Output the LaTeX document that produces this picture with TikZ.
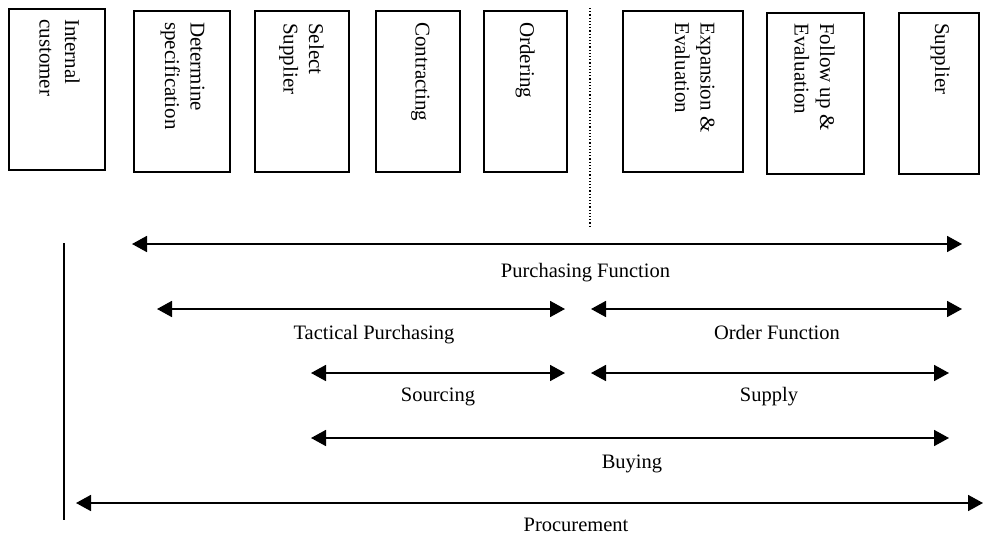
\documentclass[tikz,border=0pt]{standalone}
\usepackage{fontspec}
\setmainfont{Liberation Serif}
\usetikzlibrary{arrows.meta,calc}
\begin{document}
\begin{tikzpicture}[x=1pt,y=1pt,
  every node/.style={font=\fontsize{20.5}{23}\selectfont},
  box/.style={draw, line width=1.8pt, minimum width=#1, inner sep=0, minimum height=161pt, anchor=north west},
  vtext/.style={rotate=-90, align=left, inner sep=0, anchor=north west, font=\fontsize{21}{25.5}\selectfont},
  span/.style={line width=1.8pt, {Triangle[length=15pt,width=16pt]}-{Triangle[length=15pt,width=16pt]}},
  lbl/.style={inner sep=0, anchor=base}]
\useasboundingbox (0,0) rectangle (984,-538);
% boxes
\node[box=96pt] (b1) at (8,-8) {};
\node[box=96pt] (b2) at (133,-10) {};
\node[box=94pt] (b3) at (254,-10) {};
\node[box=84pt] (b4) at (375,-10) {};
\node[box=83pt] (b5) at (483,-10) {};
\node[box=120pt] (b6) at (622,-10) {};
\node[box=97pt] (b7) at (766,-12) {};
\node[box=80pt] (b8) at (898,-12) {};
% box texts
\node[vtext] (t1) at ($(b1.north east)+(-26,-11)$) {Internal\\customer};
\node[vtext] (t2) at ($(b2.north east)+(-26,-12)$) {Determine\\specification};
\node[vtext] (t3) at ($(b3.north east)+(-26,-13)$) {Select\\Supplier};
\node[vtext] (t4) at ($(b4.north east)+(-31,-12)$) {Contracting};
\node[vtext] (t5) at ($(b5.north east)+(-33,-12)$) {Ordering};
\node[vtext] (t6) at ($(b6.north east)+(-29,-12)$) {Expansion \&\\Evaluation};
\node[vtext] (t7) at ($(b7.north east)+(-30,-11)$) {Follow up \&\\Evaluation};
\node[vtext] (t8) at ($(b8.north east)+(-30,-11)$) {Supplier};
% dotted separator
\coordinate (d1) at (590,-8);
\coordinate (d2) at (590,-228);
\draw[line width=1.2pt, dotted] (d1) -- (d2);
% vertical line
\coordinate (v1) at (64,-243);
\coordinate (v2) at (64,-520);
\draw[line width=1.3pt] (v1) -- (v2);
% span arrows
\coordinate (pf1) at (132,-244); \coordinate (pf2) at (962,-244);
\coordinate (tp1) at (157,-309); \coordinate (tp2) at (565,-309);
\coordinate (of1) at (591,-309); \coordinate (of2) at (962,-309);
\coordinate (so1) at (311,-373); \coordinate (so2) at (565,-373);
\coordinate (su1) at (591,-373); \coordinate (su2) at (949,-373);
\coordinate (bu1) at (311,-438); \coordinate (bu2) at (949,-438);
\coordinate (pr1) at (76,-503);  \coordinate (pr2) at (983,-503);
\draw[span] (pf1) -- (pf2);
\draw[span] (tp1) -- (tp2);
\draw[span] (of1) -- (of2);
\draw[span] (so1) -- (so2);
\draw[span] (su1) -- (su2);
\draw[span] (bu1) -- (bu2);
\draw[span] (pr1) -- (pr2);
% labels
\node[lbl] (lpf) at (585.5,-277) {Purchasing Function};
\node[lbl] (ltp) at (374,-339) {Tactical Purchasing};
\node[lbl] (lof) at (777,-339) {Order Function};
\node[lbl] (lso) at (438,-401.5) {Sourcing};
\node[lbl] (lsu) at (769,-401.5) {Supply};
\node[lbl] (lbu) at (632,-468.5) {Buying};
\node[lbl] (lpr) at (576,-531.5) {Procurement};
\end{tikzpicture}
\end{document}
